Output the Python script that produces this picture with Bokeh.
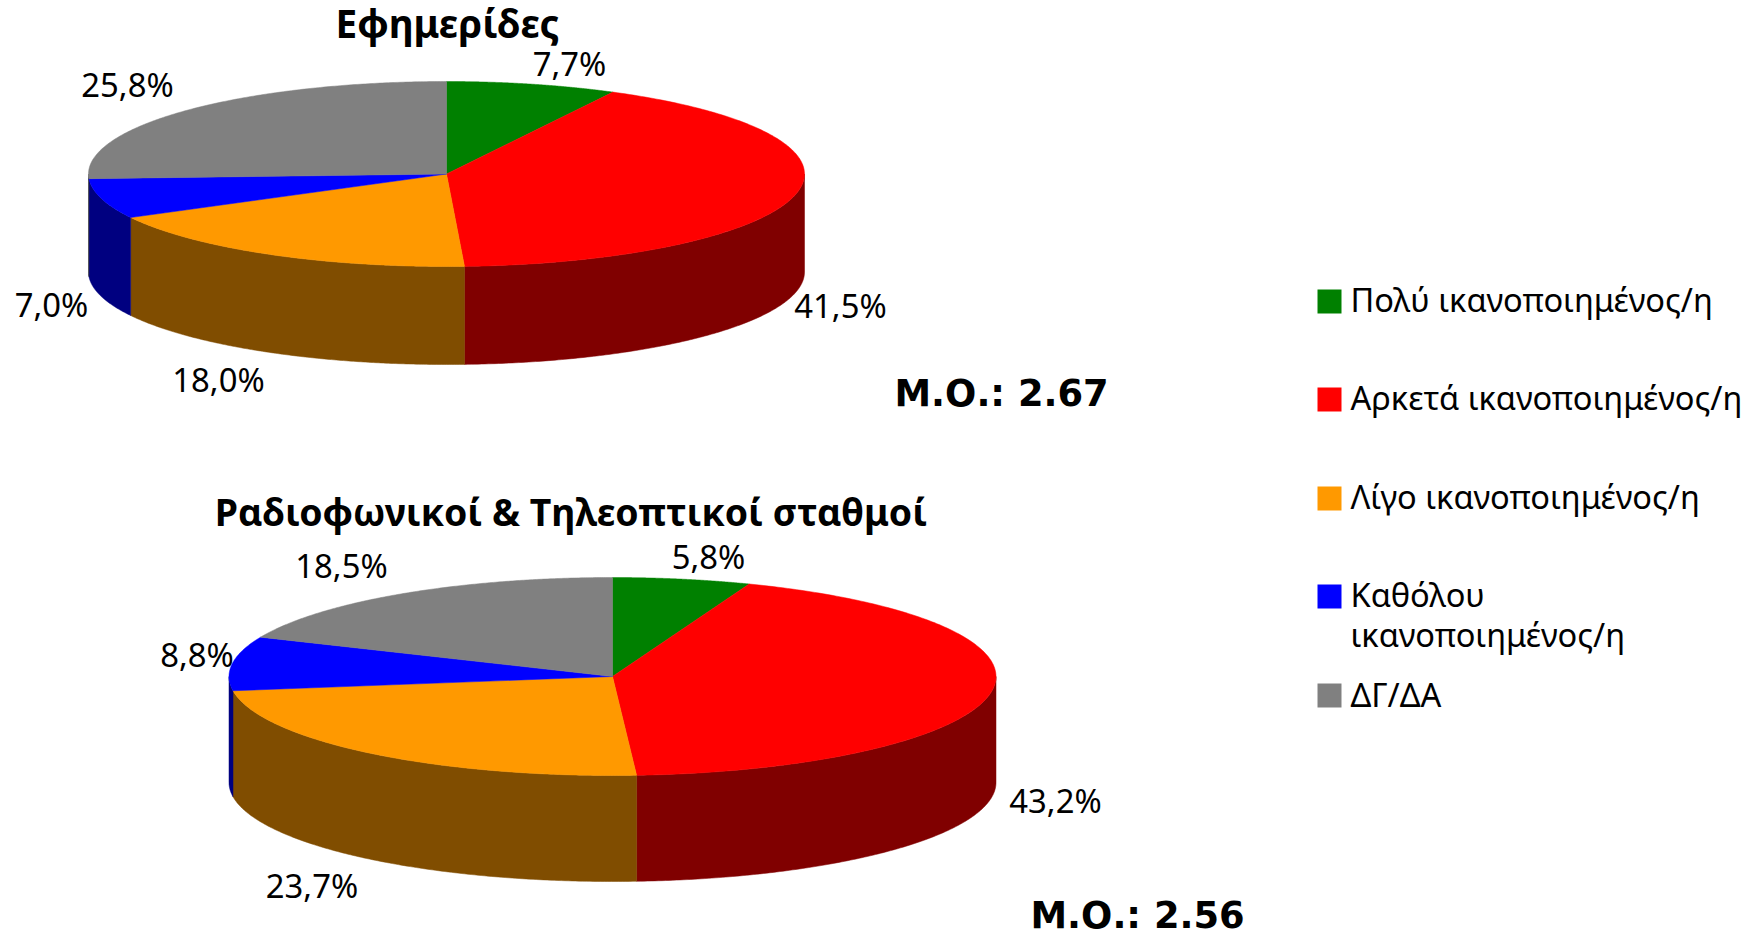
import numpy as np
from bokeh.core.properties import value
from bokeh.embed import file_html
from bokeh.models import Range1d
from bokeh.plotting import figure
from bokeh.resources import INLINE

categories = ["Πολύ ικανοποιημένος/η", "Αρκετά ικανοποιημένος/η", "Λίγο ικανοποιημένος/η",
              "Καθόλου\nικανοποιημένος/η", "ΔΓ/ΔΑ"]
newspapers = [7.7, 41.5, 18.0, 7.0, 25.8]
stations = [5.8, 43.2, 23.7, 8.8, 18.5]
titles = ["Εφημερίδες", "Ραδιοφωνικοί & Τηλεοπτικοί σταθμοί"]
means = ["Μ.Ο.: 2.67", "Μ.Ο.: 2.56"]
top_colors = ["#008000", "#FF0000", "#FF9900", "#0000FF", "#808080"]
side_colors = ["#004000", "#800000", "#804D00", "#000080", "#404040"]

W, H = 1755, 934
p = figure(width=W, height=H, output_backend="svg", toolbar_location=None,
           x_range=Range1d(0, W), y_range=Range1d(H, 0),
           min_border=0, outline_line_color=None, background_fill_color="white")
p.axis.visible = False
p.grid.visible = False
LABEL_FONT = value("Noto Sans")


def pie(values, cx, cy, rx, ry, depth):
    edges = np.concatenate([[0.0], np.cumsum(values)]) / sum(values) * 2 * np.pi
    for i in range(len(values)):
        a, b = edges[i], edges[i + 1]
        lo, hi = max(a, np.pi / 2), min(b, 3 * np.pi / 2)
        if hi > lo:
            t = np.linspace(lo, hi, 160)
            xs = cx + rx * np.sin(t)
            ys = cy - ry * np.cos(t)
            p.patch(np.r_[xs, xs[::-1]], np.r_[ys, ys[::-1] + depth],
                    fill_color=side_colors[i], line_color=side_colors[i], line_width=0.5)
    for i in range(len(values)):
        t = np.linspace(edges[i], edges[i + 1], 200)
        p.patch(np.r_[cx, cx + rx * np.sin(t)], np.r_[cy, cy - ry * np.cos(t)],
                fill_color=top_colors[i], line_color=top_colors[i], line_width=0.5)


def label(x, y, txt, size, font=LABEL_FONT, style="normal", align="center"):
    p.text([x], [y - 0.4 * size], text=[txt], text_font=font, text_font_size=value(f"{size}px"),
           text_font_style=style, text_align=align, text_baseline="alphabetic", text_color="black")


def pct(v):
    return f"{v:.1f}".replace(".", ",") + "%"


pie(newspapers, 446, 173.5, 358, 92.5, 98)
pie(stations, 612, 676, 383.5, 99, 106)

for v, (x, y) in zip(newspapers, [(569, 76), (840, 318), (218, 392), (51, 317), (127, 97)]):
    label(x, y, pct(v), 32.8)
for v, (x, y) in zip(stations, [(708, 569), (1055, 813), (311.5, 898), (196.5, 667), (341, 578)]):
    label(x, y, pct(v), 32.8)

label(447, 38, titles[0], 38.7, style="bold")
label(570.5, 526, titles[1], 37.4, style="bold")
label(894, 408, means[0], 36.8, font=value("DejaVu Sans"), style="bold", align="left")
label(1030, 930, means[1], 36.8, font=value("DejaVu Sans"), style="bold", align="left")

swatch_tops = [289, 387, 486, 584, 683]
baselines = [[312], [410], [509], [607, 647], [707]]
for c, top, col, bl in zip(categories, swatch_tops, top_colors, baselines):
    p.quad(left=[1317], right=[1341], top=[top], bottom=[top + 24], fill_color=col, line_color=None)
    for line, y in zip(c.split("\n"), bl):
        label(1350, y, line, 32.6, align="left")

html = file_html(p, INLINE).replace("</head>", "<style>html,body{margin:0;padding:0;overflow:hidden}</style></head>", 1)
open("out.html", "w").write(html)
